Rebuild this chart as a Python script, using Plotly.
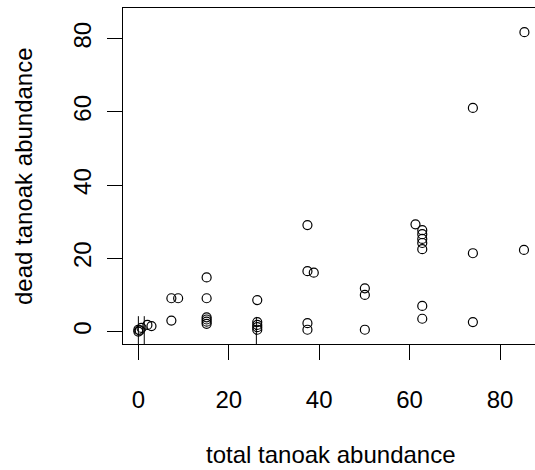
import plotly.graph_objects as go

# data
total_abund = [85.4, 74.0, 37.4, 37.4, 38.8, 37.4, 37.4,
               50.1, 50.1, 50.1, 61.3,
               62.8, 62.8, 62.8, 62.8, 62.8, 62.8, 62.8,
               74.0, 74.0, 85.3,
               15.1, 15.1, 15.1, 15.1, 15.1, 15.1,
               7.3, 8.8, 7.3,
               26.3, 26.3, 26.3, 26.3, 26.3,
               2.9, 2.0, 0.0, 0.0, 0.3, 0.7]
dead_abund = [81.8, 61.1, 29.1, 16.5, 16.1, 2.3, 0.5,
              11.8, 10.0, 0.5, 29.3,
              27.7, 26.6, 25.3, 24.2, 22.5, 7.0, 3.5,
              21.4, 2.6, 22.3,
              14.8, 9.1, 3.9, 3.3, 2.7, 2.1,
              9.1, 9.1, 3.0,
              8.6, 2.6, 1.8, 1.2, 0.5,
              1.5, 1.8, 0.0, 0.5, 0.3, 1.0]

seg_x = [0.0, 1.3, 26.1]
seg_top = [4.2, 4.2, 4.0]
seg_bottom = [-3.4, -3.4, -3.4]

x_ticks = [0, 20, 40, 60, 80]
y_ticks = [0, 20, 40, 60, 80]

FONT = "Liberation Sans, Arial, sans-serif"

sx, sy = [], []
for xv, t, b in zip(seg_x, seg_top, seg_bottom):
    sx += [xv, xv, None]
    sy += [b, t, None]

fig = go.Figure()
fig.add_trace(go.Scatter(x=sx, y=sy, mode="lines",
                         line=dict(color="black", width=1),
                         hoverinfo="skip", showlegend=False))
fig.add_trace(go.Scatter(x=total_abund, y=dead_abund, mode="markers",
                         marker=dict(symbol="circle-open", size=9,
                                     color="black", line=dict(width=1.2, color="black")),
                         showlegend=False))

fig.update_layout(
    width=535, height=470,
    margin=dict(l=123, r=0, t=7.5, b=125.8, pad=0),
    plot_bgcolor="white", paper_bgcolor="white",
    font=dict(family=FONT, size=24, color="black"),
    xaxis=dict(range=[-3.4, 87.74], tickvals=x_ticks, ticktext=[str(v) for v in x_ticks],
               showgrid=False, zeroline=False, showline=True, linecolor="black",
               linewidth=1, mirror=True, ticks="outside", ticklen=15, tickwidth=1,
               tickcolor="black", ticklabelstandoff=19,
               tickfont=dict(family=FONT, size=24, color="black")),
    yaxis=dict(range=[-3.4, 88.4], tickvals=y_ticks, ticktext=[str(v) for v in y_ticks],
               showgrid=False, zeroline=False, showline=True, linecolor="black",
               linewidth=1, mirror=False, ticks="outside", ticklen=15, tickwidth=1,
               tickcolor="black", tickangle=-90, ticklabelstandoff=6,
               tickfont=dict(family=FONT, size=24, color="black")),
    annotations=[
        dict(text="total tanoak abundance", xref="paper", yref="paper",
             x=0.505, y=-0.329, xanchor="center", yanchor="middle",
             showarrow=False, font=dict(family=FONT, size=24, color="black")),
        dict(text="dead tanoak abundance", xref="paper", yref="paper",
             x=-0.2427, y=0.5, xanchor="center", yanchor="middle", textangle=-90,
             showarrow=False, font=dict(family=FONT, size=24, color="black")),
    ],
)

fig.write_html("out.html")
